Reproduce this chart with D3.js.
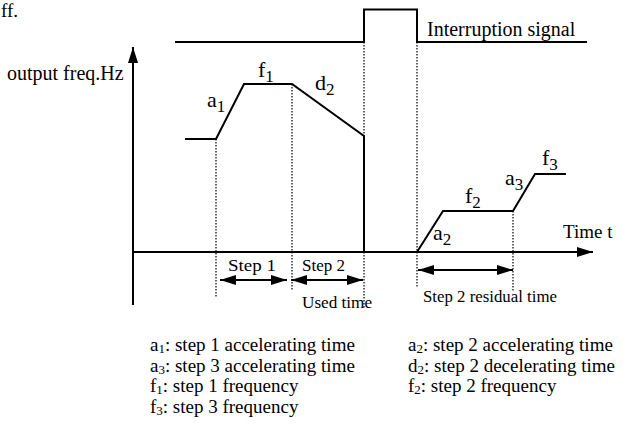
<!DOCTYPE html>
<html>
<head>
<meta charset="utf-8">
<script src="https://cdn.jsdelivr.net/npm/d3@7"></script>
<style>
  body { margin: 0; background: #fff; }
</style>
</head>
<body>
<script>
// Frequency profile: time (t) and output frequency (f), in chart units
var stepTimes = [5.2, 8.3, 11.1, 15.9, 23.1, 23.1];
var stepFreqs = [11.3, 11.3, 16.8, 16.8, 11.6, 0];
var resumeTimes = [28.4, 31.0, 38.0, 40.2, 43.3];
var resumeFreqs = [0, 4.1, 4.1, 7.8, 7.8];

// Interruption signal (level on same vertical scale)
var signalTimes = [4.2, 23.1, 23.1, 28.4, 28.4, 45.4];
var signalLevels = [21.0, 21.0, 24.25, 24.25, 21.0, 21.0];

// Dotted markers: time, top level, bottom level
var markerTimes = [8.3, 15.9, 23.1, 28.4, 38.0];
var markerTops = [11.3, 16.8, 21.0, 21.0, 4.1];
var markerBottoms = [-4.6, -3.8, -5.6, -3.5, -4.0];

// Curve labels
var curveLabels = ["a", "f", "d", "a", "f", "a", "f"];
var curveSubs = ["1", "1", "2", "2", "2", "3", "3"];
var curveLabelT = [7.4, 12.5, 18.2, 30.0, 33.2, 37.2, 40.9];
var curveLabelF = [14.5, 17.5, 16.2, 1.2, 4.9, 6.7, 8.7];

// Interval arrows below the time axis
var spanStarts = [8.7, 15.8, 28.5];
var spanEnds = [15.4, 23.0, 38.0];
var spanLevels = [-2.8, -2.8, -1.8];

// Legend
var legendSym = ["a", "a", "f", "f", "a", "d", "f"];
var legendSub = ["1", "3", "1", "3", "2", "2", "2"];
var legendText = [": step 1 accelerating time", ": step 3 accelerating time",
  ": step 1 frequency", ": step 3 frequency",
  ": step 2 accelerating time", ": step 2 decelerating time", ": step 2 frequency"];
var legendCol = [0, 0, 0, 0, 1, 1, 1];
var legendRow = [0, 1, 2, 3, 0, 1, 2];

var w = 639, h = 424;
var serif = "'Liberation Serif', 'Times New Roman', Times, serif";

var svg = d3.select("body").append("svg")
  .attr("width", w)
  .attr("height", h)
  .attr("font-family", serif);

var xScale = d3.scaleLinear().domain([0, 46]).range([133, 593]);
var yScale = d3.scaleLinear().domain([0, 20]).range([252, 52]);

var line = d3.line()
  .x(function(d) { return xScale(d[0]); })
  .y(function(d) { return yScale(d[1]); });

// Arrowhead markers
var defs = svg.append("defs");
defs.append("marker")
  .attr("id", "head")
  .attr("viewBox", "0 0 16 10")
  .attr("refX", 16).attr("refY", 5)
  .attr("markerWidth", 16).attr("markerHeight", 10)
  .attr("markerUnits", "userSpaceOnUse")
  .attr("orient", "auto-start-reverse")
  .append("path")
  .attr("d", "M0,0L16,5L0,10Z")
  .attr("fill", "#000");

// leftover text from the page above
svg.append("text")
  .attr("x", 1).attr("y", 17)
  .style("font-size", "19px")
  .text("ff.");

// Axes
svg.append("line")
  .attr("x1", xScale(0)).attr("y1", 305)
  .attr("x2", xScale(0)).attr("y2", 47)
  .attr("stroke", "#000").attr("stroke-width", 2)
  .attr("marker-end", "url(#head)");

svg.append("line")
  .attr("x1", xScale(0)).attr("y1", yScale(0))
  .attr("x2", xScale(46)).attr("y2", yScale(0))
  .attr("stroke", "#000").attr("stroke-width", 2)
  .attr("marker-end", "url(#head)");

svg.append("text")
  .attr("x", 7).attr("y", 80)
  .style("font-size", "20px")
  .text("output freq.Hz");

svg.append("text")
  .attr("x", 563).attr("y", 238)
  .style("font-size", "19px")
  .text("Time t");

// Dotted markers
svg.selectAll(".marker")
  .data(markerTimes)
  .enter()
  .append("line")
  .attr("class", "marker")
  .attr("x1", function(d) { return xScale(d); })
  .attr("x2", function(d) { return xScale(d); })
  .attr("y1", function(d, i) { return yScale(markerTops[i]); })
  .attr("y2", function(d, i) { return yScale(markerBottoms[i]); })
  .attr("stroke", "#000")
  .attr("stroke-width", 1.2)
  .attr("stroke-dasharray", "1.5,1.5");

// Signal
svg.append("path")
  .attr("d", line(d3.zip(signalTimes, signalLevels)))
  .attr("fill", "none").attr("stroke", "#000").attr("stroke-width", 2);

svg.append("text")
  .attr("x", 427).attr("y", 36)
  .style("font-size", "20px")
  .text("Interruption signal");

// Frequency profile
svg.append("path")
  .attr("d", line(d3.zip(stepTimes, stepFreqs)))
  .attr("fill", "none").attr("stroke", "#000").attr("stroke-width", 2);

svg.append("path")
  .attr("d", line(d3.zip(resumeTimes, resumeFreqs)))
  .attr("fill", "none").attr("stroke", "#000").attr("stroke-width", 2);

// Curve labels with subscripts
var lab = svg.selectAll(".lab")
  .data(curveLabels)
  .enter()
  .append("text")
  .attr("class", "lab")
  .attr("x", function(d, i) { return xScale(curveLabelT[i]); })
  .attr("y", function(d, i) { return yScale(curveLabelF[i]); })
  .style("font-size", "22px");
lab.append("tspan").text(function(d) { return d; });
lab.append("tspan")
  .attr("dy", 5)
  .style("font-size", "17px")
  .text(function(d, i) { return curveSubs[i]; });

// Interval arrows
svg.selectAll(".span")
  .data(spanStarts)
  .enter()
  .append("line")
  .attr("class", "span")
  .attr("x1", function(d) { return xScale(d); })
  .attr("x2", function(d, i) { return xScale(spanEnds[i]); })
  .attr("y1", function(d, i) { return yScale(spanLevels[i]); })
  .attr("y2", function(d, i) { return yScale(spanLevels[i]); })
  .attr("stroke", "#000").attr("stroke-width", 2)
  .attr("marker-start", "url(#head)")
  .attr("marker-end", "url(#head)");

function condensed(x, y, len, txt) {
  svg.append("text")
    .attr("x", x).attr("y", y)
    .attr("textLength", len)
    .attr("lengthAdjust", "spacingAndGlyphs")
    .style("font-size", "17px")
    .text(txt);
}
condensed(228, 271, 48, "Step 1");
condensed(302, 271, 43, "Step 2");
condensed(302, 308, 70, "Used time");
condensed(423, 302, 134, "Step 2 residual time");

// Legend
var leg = svg.selectAll(".leg")
  .data(legendSym)
  .enter()
  .append("text")
  .attr("class", "leg")
  .attr("x", function(d, i) { return legendCol[i] ? 408 : 150; })
  .attr("y", function(d, i) { return 351 + legendRow[i] * 20.5; })
  .style("font-size", "19px");
leg.append("tspan").text(function(d) { return d; });
leg.append("tspan")
  .attr("dy", 2)
  .style("font-size", "13px")
  .text(function(d, i) { return legendSub[i]; });
leg.append("tspan")
  .attr("dy", -2)
  .text(function(d, i) { return legendText[i]; });
</script>
</body>
</html>
